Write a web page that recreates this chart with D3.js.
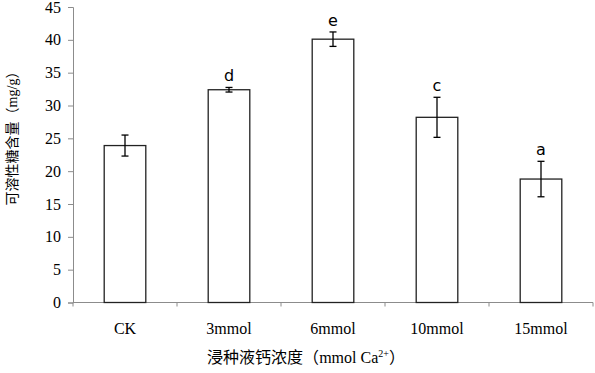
<!DOCTYPE html>
<html>
<head>
<meta charset="utf-8">
<script src="https://cdn.jsdelivr.net/npm/d3@7"></script>
<style>
  body { margin: 0; background: #fff; }
  svg text { font-family: "Liberation Serif", "Times New Roman", "Noto Sans CJK SC", serif; }
</style>
</head>
<body>
<div id="chart"></div>
<script>
var categories = ['CK', '3mmol', '6mmol', '10mmol', '15mmol'];
var values = [23.9, 32.4, 40.1, 28.2, 18.8];
var errors = [1.6, 0.35, 1.1, 3.05, 2.7];
var letters = ['', 'd', 'e', 'c', 'a'];
var yTicks = [0, 5, 10, 15, 20, 25, 30, 35, 40, 45];

var width = 595, height = 373;
var margin = {left: 73, right: 2, top: 7, bottom: 70.5};

var svg = d3.select('#chart').append('svg')
    .attr('width', width)
    .attr('height', height);

var x = d3.scaleBand()
    .domain(categories)
    .range([margin.left, width - margin.right])
    .paddingInner(0.6)
    .paddingOuter(0.3);

var y = d3.scaleLinear()
    .domain([0, 45])
    .range([height - margin.bottom, margin.top]);

// y axis
var yAxis = svg.append('g')
    .attr('transform', 'translate(' + margin.left + ',0)')
    .call(d3.axisLeft(y).tickValues(yTicks).tickSize(5).tickPadding(7));
yAxis.select('.domain').attr('stroke', '#8c8c8c');
yAxis.selectAll('.tick line').attr('stroke', '#8c8c8c');
yAxis.selectAll('.tick text')
    .attr('font-size', 16)
    .attr('fill', '#000')
    .style('font-family', '"Liberation Serif", serif');

// x axis: ticks at band boundaries
var step = x.step();
var bounds = d3.range(categories.length + 1).map(function (i) {
    return margin.left + i * step;
});
var xg = svg.append('g');
xg.append('line')
    .attr('x1', margin.left).attr('x2', width - margin.right)
    .attr('y1', y(0)).attr('y2', y(0))
    .attr('stroke', '#8c8c8c');
xg.selectAll('line.tk')
    .data(bounds)
    .enter()
    .append('line')
    .attr('class', 'tk')
    .attr('x1', function (d) { return d; })
    .attr('x2', function (d) { return d; })
    .attr('y1', y(0))
    .attr('y2', y(0) + 4)
    .attr('stroke', '#8c8c8c');
xg.selectAll('text')
    .data(categories)
    .enter()
    .append('text')
    .attr('x', function (d) { return x(d) + x.bandwidth() / 2; })
    .attr('y', y(0) + 31)
    .attr('text-anchor', 'middle')
    .attr('font-size', 16)
    .text(function (d) { return d; });

// bars
svg.selectAll('rect.bar')
    .data(values)
    .enter()
    .append('rect')
    .attr('class', 'bar')
    .attr('x', function (d, i) { return x(categories[i]); })
    .attr('y', function (d) { return y(d); })
    .attr('width', x.bandwidth())
    .attr('height', function (d) { return y(0) - y(d); })
    .attr('fill', '#fff')
    .attr('stroke', '#222')
    .attr('stroke-width', 1.3);

// error bars
var eb = svg.selectAll('g.err')
    .data(values)
    .enter()
    .append('g')
    .attr('class', 'err')
    .attr('stroke', '#000')
    .attr('stroke-width', 1.3);
eb.append('line')
    .attr('x1', function (d, i) { return x(categories[i]) + x.bandwidth() / 2; })
    .attr('x2', function (d, i) { return x(categories[i]) + x.bandwidth() / 2; })
    .attr('y1', function (d, i) { return y(d + errors[i]); })
    .attr('y2', function (d, i) { return y(d - errors[i]); });
[1, -1].forEach(function (s) {
    eb.append('line')
        .attr('x1', function (d, i) { return x(categories[i]) + x.bandwidth() / 2 - 3.5; })
        .attr('x2', function (d, i) { return x(categories[i]) + x.bandwidth() / 2 + 3.5; })
        .attr('y1', function (d, i) { return y(d + s * errors[i]); })
        .attr('y2', function (d, i) { return y(d + s * errors[i]); });
});

// significance letters
svg.selectAll('text.sig')
    .data(values)
    .enter()
    .append('text')
    .attr('class', 'sig')
    .attr('x', function (d, i) { return x(categories[i]) + x.bandwidth() / 2; })
    .attr('y', function (d, i) { return y(d + errors[i]) - 6; })
    .attr('text-anchor', 'middle')
    .attr('font-size', 16)
    .style('font-family', '"DejaVu Sans", sans-serif')
    .text(function (d, i) { return letters[i]; });

// axis titles
var xt = svg.append('text')
    .attr('x', 306)
    .attr('y', 363)
    .attr('text-anchor', 'middle')
    .attr('font-size', 16);
xt.append('tspan').style('font-family', '"Noto Sans CJK SC", sans-serif').text('浸种液钙浓度（');
xt.append('tspan').text('mmol Ca');
xt.append('tspan').attr('font-size', 10).attr('dy', -6).text('2+');
xt.append('tspan').attr('dy', 6).style('font-family', '"Noto Sans CJK SC", sans-serif').text('）');

var yt = svg.append('text')
    .attr('transform', 'translate(17,135) rotate(-90)')
    .attr('text-anchor', 'middle')
    .attr('font-size', 14);
yt.append('tspan').style('font-family', '"Noto Sans CJK SC", sans-serif').text('可溶性糖含量（');
yt.append('tspan').text('mg/g');
yt.append('tspan').style('font-family', '"Noto Sans CJK SC", sans-serif').text('）');
</script>
</body>
</html>
